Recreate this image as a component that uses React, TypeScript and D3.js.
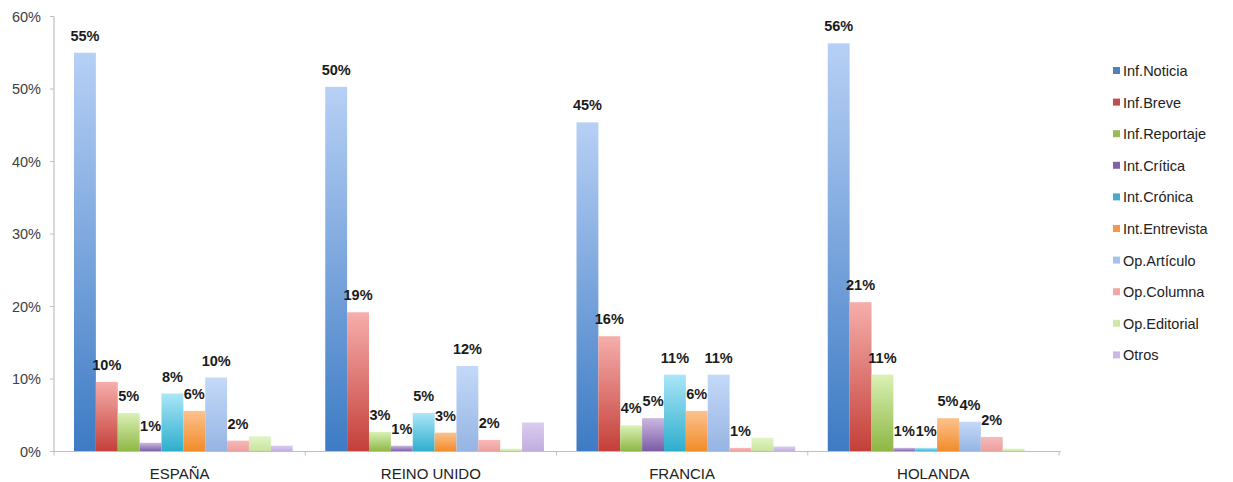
import React from "react";
import * as d3 from "d3";

const categories = ["ESPAÑA", "REINO UNIDO", "FRANCIA", "HOLANDA"];
const seriesNames = [
  "Inf.Noticia",
  "Inf.Breve",
  "Inf.Reportaje",
  "Int.Crítica",
  "Int.Crónica",
  "Int.Entrevista",
  "Op.Artículo",
  "Op.Columna",
  "Op.Editorial",
  "Otros",
];
// values per series, in order of categories
const infNoticia = [55, 50.3, 45.4, 56.3];
const infBreve = [9.6, 19.2, 15.9, 20.6];
const infReportaje = [5.3, 2.7, 3.6, 10.6];
const intCritica = [1.2, 0.8, 4.6, 0.5];
const intCronica = [8.0, 5.3, 10.6, 0.5];
const intEntrevista = [5.6, 2.6, 5.6, 4.6];
const opArticulo = [10.2, 11.8, 10.6, 4.1];
const opColumna = [1.5, 1.6, 0.5, 2.0];
const opEditorial = [2.1, 0.4, 1.9, 0.4];
const otros = [0.8, 4.0, 0.7, 0];
const seriesValues = [
  infNoticia,
  infBreve,
  infReportaje,
  intCritica,
  intCronica,
  intEntrevista,
  opArticulo,
  opColumna,
  opEditorial,
  otros,
];
const labeledSeries = 8;
const yTicks = [0, 10, 20, 30, 40, 50, 60];

// gradient colours [top, bottom] and legend colour
const gradTop = ["#b7d0f5", "#f6aeab", "#daf1b5", "#cbb8e0", "#abe6f8", "#fcc28e", "#c4d9f8", "#f7b9b7", "#e2f4c6", "#dacdee"];
const gradBottom = ["#3d7bc4", "#c43f39", "#8db744", "#7a5ba6", "#2daecd", "#f18b28", "#96b4e3", "#eb9f9e", "#c7e49d", "#c0ade0"];
const legendColors = ["#4f81bd", "#c0504d", "#9bbb59", "#8064a2", "#4bacc6", "#f79646", "#a7c1ec", "#f2a7a5", "#cfe8a3", "#c9b9e3"];

export default function App() {
  const W = 1233;
  const H = 482;
  const x0 = d3.scaleBand().domain(categories).range([54, 1059]).padding(0);
  const x1 = d3.scaleBand().domain(seriesNames).range([20, 238.7]).padding(0);
  const y = d3.scaleLinear().domain([0, 60]).range([451.5, 16.5]);
  const font = "'Liberation Sans', Arial, Helvetica, sans-serif";

  return (
    <svg
      width={W}
      height={H}
      style={{ position: "absolute", left: 0, top: 0, background: "#fff" }}
      fontFamily={font}
    >
      <defs>
        {seriesNames.map((s, i) => (
          <linearGradient key={s} id={`g${i}`} x1="0" y1="0" x2="0" y2="1">
            <stop offset="0%" stopColor={gradTop[i]} />
            <stop offset="100%" stopColor={gradBottom[i]} />
          </linearGradient>
        ))}
      </defs>

      {/* y axis */}
      <line x1={54} x2={54} y1={y(60)} y2={y(0)} stroke="#bfbfbf" strokeWidth={1.2} />
      {yTicks.map((t) => (
        <g key={t}>
          <line x1={50} x2={54} y1={y(t)} y2={y(t)} stroke="#bfbfbf" />
          <text
            x={41}
            y={y(t)}
            dy="0.35em"
            textAnchor="end"
            fontSize={14.5}
            fill="#404040"
          >
            {t}%
          </text>
        </g>
      ))}

      {/* bars */}
      {categories.map((c, ci) => (
        <g key={c} transform={`translate(${x0(c)},0)`}>
          {seriesNames.map((s, si) => {
            const v = seriesValues[si][ci];
            if (v <= 0) return null;
            return (
              <rect
                key={s}
                x={x1(s)}
                y={y(v)}
                width={x1.bandwidth()}
                height={y(0) - y(v)}
                fill={`url(#g${si})`}
              />
            );
          })}
        </g>
      ))}

      {/* x axis */}
      <line x1={54} x2={1061} y1={y(0)} y2={y(0)} stroke="#bfbfbf" strokeWidth={1.2} />
      {[...categories.map((c) => x0(c) as number), 1059].map((px, i) => (
        <line key={i} x1={px} x2={px} y1={y(0)} y2={y(0) + 4} stroke="#bfbfbf" />
      ))}
      {categories.map((c) => (
        <text
          key={c}
          x={(x0(c) as number) + x0.bandwidth() / 2}
          y={474}
          dy="0.35em"
          textAnchor="middle"
          fontSize={15}
          fill="#222"
        >
          {c}
        </text>
      ))}

      {/* data labels */}
      {categories.map((c, ci) => (
        <g key={c} transform={`translate(${x0(c)},0)`}>
          {seriesNames.slice(0, labeledSeries).map((s, si) => {
            const v = seriesValues[si][ci];
            return (
              <text
                key={s}
                x={(x1(s) as number) + x1.bandwidth() / 2}
                y={y(v) - 17}
                dy="0.35em"
                textAnchor="middle"
                fontSize={14.5}
                fontWeight="bold"
                fill="#1a1a1a"
              >
                {Math.round(v)}%
              </text>
            );
          })}
        </g>
      ))}

      {/* legend */}
      {seriesNames.map((s, i) => {
        const ly = 71 + i * 31.6;
        return (
          <g key={s}>
            <rect x={1113} y={ly - 4} width={7} height={7} fill={legendColors[i]} />
            <text x={1123} y={ly} dy="0.35em" fontSize={14.5} fill="#222">
              {s}
            </text>
          </g>
        );
      })}
    </svg>
  );
}
